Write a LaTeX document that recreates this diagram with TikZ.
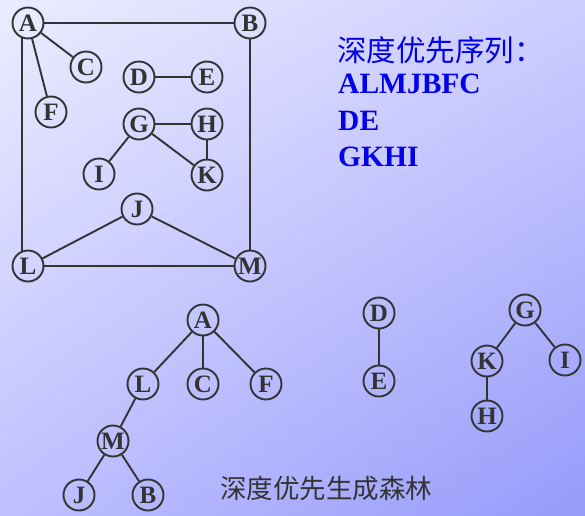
\documentclass[tikz,border=0pt]{standalone}
\usepackage{fontspec}
\setmainfont{Liberation Serif}
\newfontfamily\cjk{Noto Sans CJK SC}
\usepackage{xcolor}
\usepackage{tikz}
\usetikzlibrary{positioning}
\usetikzlibrary{shadings}
\definecolor{bgtl}{RGB}{236,236,255}
\definecolor{bgtr}{RGB}{205,205,255}
\definecolor{bgbl}{RGB}{190,192,255}
\definecolor{bgbr}{RGB}{150,155,250}
\definecolor{edgegray}{RGB}{51,51,51}
\definecolor{seqblue}{RGB}{0,0,235}
\tikzset{
  mycircle/.style={
    draw=edgegray,
    shape=circle,
    line width=1.9pt,
    inner sep=0pt,
    minimum size=31pt,
    align=center,
    text=edgegray,
    font=\fontsize{25}{25}\selectfont\bfseries
  },
  myline/.style={
    draw=edgegray,
    line width=1.9pt,
  },
  myseq/.style={
    anchor=base west,
    inner sep=0pt,
    text=seqblue,
    font=\fontsize{29.5}{30}\selectfont\bfseries
  },
}

\begin{document}
\begin{tikzpicture}[x=1pt, y=-1pt]
    \shade[upper left=bgtl, upper right=bgtr, lower left=bgbl, lower right=bgbr] (0,0) rectangle (585,515);
    \useasboundingbox (0,0) rectangle (585,515);

    % graph
    \node[mycircle] (A) at (28,23)   {A};
    \node[mycircle] (B) at (250,23)  {B};
    \node[mycircle] (C) at (86,67)   {C};
    \node[mycircle] (D) at (139,77)  {D};
    \node[mycircle] (E) at (207,77)  {E};
    \node[mycircle] (F) at (51,112)  {F};
    \node[mycircle] (G) at (139,124) {G};
    \node[mycircle] (H) at (207,124) {H};
    \node[mycircle] (I) at (99,174)  {I};
    \node[mycircle] (K) at (207,175) {K};
    \node[mycircle] (J) at (137,209) {J};
    \node[mycircle] (L) at (28,266)  {L};
    \node[mycircle] (M) at (250,266) {M};

    \draw[myline] (A) -- (B);
    \draw[myline] (A.250) -- (L.110);
    \draw[myline] (B) -- (M);
    \draw[myline] (L) -- (M);
    \draw[myline] (A) -- (C);
    \draw[myline] (A) -- (F);
    \draw[myline] (D) -- (E);
    \draw[myline] (G) -- (H);
    \draw[myline] (G) -- (I);
    \draw[myline] (G) -- (K);
    \draw[myline] (H) -- (K);
    \draw[myline] (J) -- (L);
    \draw[myline] (J) -- (M);

    % sequences
    \node[anchor=west, inner sep=0pt, text=seqblue, font=\cjk\fontsize{29.5}{30}\selectfont] (seqtitle) at (337,50) {深度优先序列：};
    \node[myseq] (seq1) at (338,93)  {ALMJBFC};
    \node[myseq] (seq2) at (338,130) {DE};
    \node[myseq] (seq3) at (338,166) {GKHI};

    % forest
    \node[mycircle] (tA) at (203,320) {A};
    \node[mycircle] (tL) at (143,384) {L};
    \node[mycircle] (tC) at (203,384) {C};
    \node[mycircle] (tF) at (266,384) {F};
    \node[mycircle] (tM) at (113,441) {M};
    \node[mycircle] (tJ) at (79,495)  {J};
    \node[mycircle] (tB) at (148,495) {B};
    \node[mycircle] (tD) at (379,313) {D};
    \node[mycircle] (tE) at (379,381) {E};
    \node[mycircle] (tG) at (525,310) {G};
    \node[mycircle] (tK) at (487,361) {K};
    \node[mycircle] (tI) at (565,360) {I};
    \node[mycircle] (tH) at (487,416) {H};

    \draw[myline] (tA) -- (tL);
    \draw[myline] (tA) -- (tC);
    \draw[myline] (tA) -- (tF);
    \draw[myline] (tL) -- (tM);
    \draw[myline] (tM) -- (tJ);
    \draw[myline] (tM) -- (tB);
    \draw[myline] (tD) -- (tE);
    \draw[myline] (tG) -- (tK);
    \draw[myline] (tG) -- (tI);
    \draw[myline] (tK) -- (tH);

    \node[inner sep=0pt, text=edgegray, font=\cjk\fontsize{26.5}{28}\selectfont] (caption) at (326,488) {深度优先生成森林};
\end{tikzpicture}
\end{document}
